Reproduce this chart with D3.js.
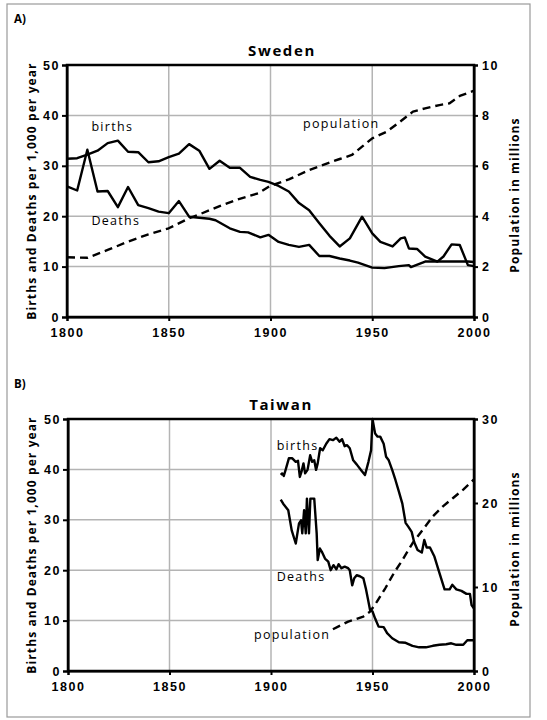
<!DOCTYPE html>
<meta charset="utf-8">
<style>
    body { margin: 0; background: #fff; }
    svg { display: block; font-family: "Open Sans", "Noto Sans", sans-serif; }
    .grid line { stroke: #b4b4b4; stroke-width: 1.5px; }
    .axis path, .axis line { stroke: #000; stroke-width: 2px; }
    .axis text { font-size: 12.5px; font-weight: bold; letter-spacing: 1.6px; fill: #000; }
    .frame { fill: none; stroke: #000; stroke-width: 2.5px; }
    .series { fill: none; stroke: #000; stroke-width: 2.4px; stroke-linejoin: round; }
    .dashed { stroke-dasharray: 8, 5; }
    .label { font-size: 12.5px; letter-spacing: 1.3px; fill: #000; }
    .title { font-size: 15px; font-weight: bold; letter-spacing: 1.6px; }
    .ytitle { font-size: 12px; font-weight: bold; letter-spacing: 1.1px; }
    .panel { font-size: 11.5px; font-weight: bold; }
</style>
<svg width="547" height="720"></svg>
<script src="https://d3js.org/d3.v7.min.js"></script>
<script>
    // x axis shared by both panels
    var yearTicks = [1800, 1850, 1900, 1950, 2000];
    var rateTicks = [0, 10, 20, 30, 40, 50];

    // Sweden
    var swedenBirthYears = [1800, 1805, 1810, 1815, 1820, 1825, 1830, 1835, 1840, 1845, 1850, 1855, 1860, 1865, 1870, 1875, 1880, 1885, 1890, 1895, 1899, 1904, 1909, 1914, 1919, 1924, 1929, 1934, 1939, 1945, 1950, 1954, 1960, 1964, 1966, 1968, 1972, 1976, 1982, 1985, 1989, 1993, 1997, 2000];
    var swedenBirths = [31.4, 31.5, 32.2, 33.0, 34.5, 35.0, 32.8, 32.7, 30.7, 30.9, 31.7, 32.4, 34.3, 33.0, 29.4, 31.0, 29.6, 29.6, 27.8, 27.2, 26.8, 26.0, 24.9, 22.6, 21.2, 18.6, 16.1, 14.0, 15.6, 19.9, 16.6, 14.9, 14.0, 15.6, 15.8, 13.6, 13.5, 12.0, 11.0, 12.0, 14.4, 14.3, 10.3, 10.1];
    var swedenDeathYears = [1800, 1805, 1810, 1815, 1820, 1825, 1830, 1835, 1840, 1845, 1850, 1855, 1860, 1865, 1870, 1873, 1880, 1885, 1889, 1895, 1899, 1904, 1909, 1914, 1919, 1924, 1929, 1934, 1939, 1943, 1950, 1956, 1963, 1968, 1969, 1976, 1983, 1988, 1997, 2000];
    var swedenDeaths = [25.9, 25.1, 33.2, 24.9, 25.0, 21.8, 25.8, 22.2, 21.6, 20.9, 20.6, 23.0, 19.9, 19.7, 19.5, 19.2, 17.6, 16.9, 16.8, 15.8, 16.3, 14.9, 14.3, 13.9, 14.3, 12.1, 12.1, 11.6, 11.2, 10.8, 9.8, 9.7, 10.1, 10.3, 9.9, 11.0, 11.0, 11.0, 11.0, 10.9];
    var swedenPopYears = [1800, 1810, 1820, 1830, 1840, 1850, 1860, 1865, 1875, 1884, 1894, 1900, 1909, 1919, 1929, 1934, 1940, 1945, 1950, 1957, 1963, 1970, 1976, 1983, 1988, 1993, 2000];
    var swedenPop = [2.37, 2.35, 2.66, 2.99, 3.28, 3.52, 3.92, 4.07, 4.4, 4.67, 4.91, 5.21, 5.46, 5.83, 6.13, 6.27, 6.43, 6.76, 7.09, 7.35, 7.71, 8.15, 8.28, 8.41, 8.48, 8.77, 8.98];
    var swedenPopTicks = [0, 2, 4, 6, 8, 10];

    // Taiwan
    var taiwanBirthYears = [1904.8, 1905.5, 1906.3, 1907.2, 1908.8, 1910.5, 1912.2, 1913.3, 1914.2, 1915, 1916, 1916.8, 1918, 1919.3, 1920.3, 1921.3, 1922.2, 1923, 1924.2, 1925.5, 1927.2, 1928.8, 1930.5, 1932.2, 1933.8, 1935, 1936.3, 1937.5, 1938.8, 1940.5, 1942.2, 1944.7, 1946.3, 1948, 1949.3, 1950, 1951.3, 1952.5, 1953.8, 1955.5, 1956.7, 1958, 1959.7, 1961.3, 1963, 1964.7, 1966.3, 1967.7, 1969.3, 1970.5, 1972.2, 1974.3, 1975.5, 1976.7, 1978.3, 1980.5, 1983, 1985.5, 1988, 1989.3, 1991.3, 1993.8, 1996.3, 1998, 1998.8, 2000];
    var taiwanBirths = [38.9, 39.2, 38.7, 39.9, 42.2, 42.2, 41.5, 41.7, 38.5, 39.5, 41.2, 39.2, 39.9, 42.8, 41.5, 41.8, 39.9, 41.2, 44.2, 43.8, 45.1, 46.0, 45.8, 46.3, 45.5, 46.0, 44.6, 44.8, 44.2, 41.8, 41.0, 39.7, 38.9, 41.5, 43.8, 50.0, 47.1, 46.5, 46.5, 45.1, 42.5, 41.8, 39.9, 37.9, 35.6, 33.2, 29.4, 28.6, 27.6, 25.6, 24.0, 23.5, 26.0, 24.5, 24.5, 22.7, 19.4, 16.2, 16.2, 17.1, 16.2, 15.9, 15.3, 15.3, 13.1, 12.4];
    var taiwanDeathYears = [1904.8, 1906, 1908.5, 1910.2, 1912.2, 1913.8, 1914.8, 1915.4, 1916.3, 1917.1, 1917.7, 1918.7, 1919.4, 1921.3, 1922.5, 1923, 1924.1, 1925, 1926.6, 1928.2, 1929.4, 1930.8, 1932.2, 1933.3, 1934.7, 1936.3, 1938, 1938.8, 1940, 1941, 1942.2, 1943.8, 1945.5, 1946.7, 1947.7, 1948.8, 1950, 1951.3, 1953, 1955.5, 1957.2, 1959.7, 1963, 1966.3, 1969.7, 1973, 1976.3, 1979.7, 1983, 1986.3, 1988.8, 1991.3, 1994.7, 1996.7, 2000];
    var taiwanDeaths = [34.0, 33.2, 31.9, 27.9, 25.3, 29.3, 29.9, 27.3, 31.9, 27.3, 34.2, 27.3, 34.2, 34.2, 27.3, 22.0, 24.3, 23.7, 22.3, 21.7, 20.0, 21.0, 20.2, 21.2, 20.4, 20.7, 20.4, 20.0, 17.0, 18.4, 19.0, 18.8, 18.4, 16.4, 14.4, 12.1, 11.8, 10.4, 8.8, 8.7, 7.5, 6.5, 5.7, 5.6, 5.0, 4.7, 4.7, 5.0, 5.2, 5.3, 5.5, 5.2, 5.2, 6.1, 6.1];
    var taiwanPopYears = [1930.5, 1938, 1945.5, 1948.8, 1952.2, 1956.3, 1960.5, 1964.7, 1969.7, 1974.7, 1979.7, 1984.7, 1989.7, 1994.7, 2000];
    var taiwanPop = [4.97, 5.88, 6.48, 7.07, 8.26, 9.85, 11.64, 13.2, 15.2, 16.8, 18.4, 19.6, 20.6, 21.6, 22.8];
    var taiwanPopTicks = [0, 10, 20, 30];

    var svg = d3.select("svg");

    // outer frame
    svg.append("rect")
        .attr("x", 7).attr("y", 4)
        .attr("width", 523).attr("height", 713)
        .attr("fill", "none").attr("stroke", "#9a9a9a").attr("stroke-width", 1.2);

    function zip(xs, ys) {
        return xs.map(function(x, i) { return [x, ys[i]]; });
    }

    function drawPanel(cfg) {
        var x = d3.scaleLinear().domain([1800, 2000]).range([cfg.left, cfg.right]);
        var y = d3.scaleLinear().domain([0, 50]).range([cfg.bottom, cfg.top]);
        var y2 = d3.scaleLinear().domain([0, cfg.popMax]).range([cfg.bottom, cfg.top]);

        var g = svg.append("g");

        g.append("text").attr("class", "panel")
            .attr("x", 14).attr("y", cfg.top - cfg.panelOffset)
            .text(cfg.panel);

        g.append("text").attr("class", "title")
            .attr("x", cfg.titleX).attr("y", cfg.top - 9)
            .attr("text-anchor", "middle")
            .text(cfg.title);

        // grid
        var grid = g.append("g").attr("class", "grid");
        grid.selectAll(".h").data(rateTicks.slice(1, -1)).enter().append("line")
            .attr("x1", cfg.left).attr("x2", cfg.right)
            .attr("y1", function(d) { return y(d); })
            .attr("y2", function(d) { return y(d); });
        grid.selectAll(".v").data(yearTicks.slice(1, -1)).enter().append("line")
            .attr("y1", cfg.top).attr("y2", cfg.bottom)
            .attr("x1", function(d) { return x(d); })
            .attr("x2", function(d) { return x(d); });

        // axes
        g.append("g").attr("class", "axis")
            .attr("transform", "translate(0," + cfg.bottom + ")")
            .call(d3.axisBottom(x).tickValues(yearTicks).tickFormat(d3.format("d")).tickSize(4).tickPadding(7));
        g.append("g").attr("class", "axis")
            .attr("transform", "translate(" + cfg.left + ",0)")
            .call(d3.axisLeft(y).tickValues(rateTicks).tickSize(5).tickPadding(2));
        g.append("g").attr("class", "axis")
            .attr("transform", "translate(" + cfg.right + ",0)")
            .call(d3.axisRight(y2).tickValues(cfg.popTicks).tickSize(4).tickPadding(4));

        g.append("rect").attr("class", "frame")
            .attr("x", cfg.left).attr("y", cfg.top)
            .attr("width", cfg.right - cfg.left).attr("height", cfg.bottom - cfg.top);

        // axis titles
        g.append("text").attr("class", "ytitle")
            .attr("transform", "translate(36," + ((cfg.top + cfg.bottom) / 2) + ") rotate(-90)")
            .attr("text-anchor", "middle")
            .text("Births and Deaths per 1,000 per year");
        g.append("text").attr("class", "ytitle")
            .attr("transform", "translate(519," + ((cfg.top + cfg.bottom) / 2 + 4) + ") rotate(-90)")
            .attr("text-anchor", "middle")
            .text("Population in millions");

        var rateLine = d3.line()
            .x(function(d) { return x(d[0]); })
            .y(function(d) { return y(d[1]); });
        var popLine = d3.line()
            .x(function(d) { return x(d[0]); })
            .y(function(d) { return y2(d[1]); });

        g.append("path").attr("class", "series").attr("d", rateLine(cfg.births));
        g.append("path").attr("class", "series").attr("d", rateLine(cfg.deaths));
        g.append("path").attr("class", "series dashed").attr("d", popLine(cfg.pop));

        cfg.labels.forEach(function(l) {
            g.append("text").attr("class", "label")
                .attr("x", x(l[1])).attr("y", y(l[2]))
                .text(l[0]);
        });
    }

    drawPanel({
        panel: "A)", panelOffset: 42, title: "Sweden", titleX: 282,
        left: 67, right: 474, top: 65, bottom: 317,
        popMax: 10, popTicks: swedenPopTicks,
        births: zip(swedenBirthYears, swedenBirths),
        deaths: zip(swedenDeathYears, swedenDeaths),
        pop: zip(swedenPopYears, swedenPop),
        labels: [["births", 1812, 36.9], ["Deaths", 1812, 18.3], ["population", 1916, 37.5]]
    });

    drawPanel({
        panel: "B)", panelOffset: 31, title: "Taiwan", titleX: 281,
        left: 68, right: 474, top: 419, bottom: 671,
        popMax: 30, popTicks: taiwanPopTicks,
        births: zip(taiwanBirthYears, taiwanBirths),
        deaths: zip(taiwanDeathYears, taiwanDeaths),
        pop: zip(taiwanPopYears, taiwanPop),
        labels: [["births", 1902.8, 43.8], ["Deaths", 1902.8, 17.8], ["population", 1891.6, 6.3]]
    });
</script>
